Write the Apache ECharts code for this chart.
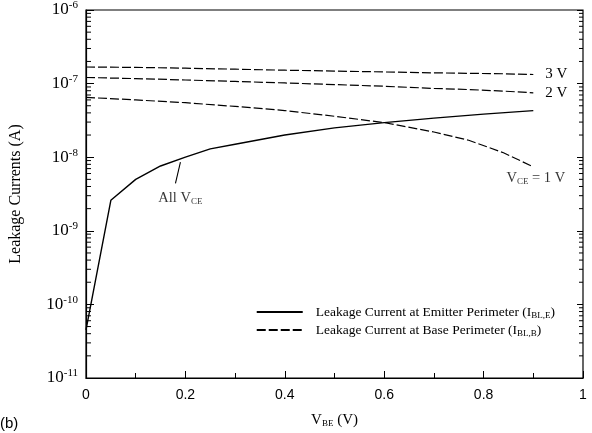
<!DOCTYPE html>
<html>
<head>
<meta charset="utf-8">
<script src="https://cdn.jsdelivr.net/npm/echarts@6/dist/echarts.min.js"></script>
<style>
  html, body { margin: 0; padding: 0; background: #fff; }
  #chart { width: 592px; height: 433px; }
</style>
</head>
<body>
<div id="chart"></div>
<script>
// emitter perimeter leakage (same for all VCE)
var vbeEmitter = [0, 0.05, 0.1, 0.15, 0.2, 0.25, 0.3, 0.4, 0.5, 0.6, 0.7, 0.8, 0.9];
var emitterLeak = [4.5e-11, 2.6e-9, 5e-9, 7.6e-9, 1.0e-8, 1.3e-8, 1.5e-8, 2.0e-8, 2.5e-8, 2.95e-8, 3.4e-8, 3.85e-8, 4.3e-8];

// base perimeter leakage, one per VCE
var vbeBase = [0, 0.1, 0.2, 0.3, 0.4, 0.5, 0.6, 0.7, 0.77, 0.84, 0.9];
var base3V = [1.68e-7, 1.66e-7, 1.62e-7, 1.57e-7, 1.52e-7, 1.48e-7, 1.44e-7, 1.4e-7, 1.38e-7, 1.36e-7, 1.33e-7];
var base2V = [1.21e-7, 1.17e-7, 1.12e-7, 1.07e-7, 1.02e-7, 9.7e-8, 9.2e-8, 8.6e-8, 8.3e-8, 7.9e-8, 7.5e-8];
var base1V = [6.5e-8, 6.0e-8, 5.5e-8, 4.9e-8, 4.3e-8, 3.6e-8, 2.95e-8, 2.2e-8, 1.7e-8, 1.15e-8, 7.4e-9];

var yMin = 1e-11, yMax = 1e-6;

function pairs(xs, ys) {
  return xs.map(function (x, i) { return [x, ys[i]]; });
}

// log minor tick values 2..9 x 10^k
var minorVals = [];
for (var k = -11; k < -6; k++) {
  for (var m = 2; m <= 9; m++) minorVals.push([0, m * Math.pow(10, k)]);
}

var serif = 'Liberation Serif';
var sans = 'Liberation Sans';
var dash = [9, 3];
var subStyle = { fontFamily: serif, fontSize: 9, padding: [7, 0, 0, 0] };

var myChart = echarts.init(document.getElementById('chart'), null, { renderer: 'canvas' });

var option = {
  animation: false,
  backgroundColor: '#fff',
  grid: { left: 85, right: 9, top: 10, bottom: 47, show: true, borderColor: '#000', borderWidth: 1.2 },
  legend: {
    orient: 'vertical',
    right: 32,
    bottom: 90,
    itemWidth: 46,
    itemHeight: 12,
    itemGap: 3,
    data: ['emitter', 'base3'],
    itemStyle: { opacity: 0 },
    textStyle: {
      fontFamily: serif, fontSize: 13.5, color: '#000', padding: [0, 0, 0, 8],
      rich: { sub: { fontFamily: serif, fontSize: 9, padding: [7, 0, 0, 0] } }
    },
    formatter: function (name) {
      return name === 'emitter'
        ? 'Leakage Current at Emitter Perimeter (I{sub|BL,E})'
        : 'Leakage Current at Base Perimeter (I{sub|BL,B})';
    }
  },
  xAxis: {
    type: 'value', min: 0, max: 1, interval: 0.2,
    name: 'V{sub|BE} (V)', nameLocation: 'middle', nameGap: 34,
    nameTextStyle: {
      fontFamily: serif, fontSize: 15, color: '#000',
      rich: { sub: subStyle }
    },
    axisLine: { lineStyle: { color: '#000', width: 1.2 } },
    axisTick: { inside: true, length: 7, lineStyle: { color: '#000' } },
    minorTick: { show: true, splitNumber: 2, length: 5, lineStyle: { color: '#000' } },
    splitLine: { show: false },
    axisLabel: { fontFamily: sans, fontSize: 14, color: '#000', margin: 10,
      formatter: function (v) { return String(Math.round(v * 10) / 10); } }
  },
  yAxis: [{
    type: 'log', min: yMin, max: yMax, logBase: 10,
    name: 'Leakage Currents (A)', nameLocation: 'middle', nameGap: 62,
    nameTextStyle: { fontFamily: serif, fontSize: 16, color: '#000' },
    axisLine: { lineStyle: { color: '#000', width: 1.2 } },
    axisTick: { inside: true, length: 8, lineStyle: { color: '#000' } },
    splitLine: { show: false },
    axisLabel: {
      fontFamily: serif, fontSize: 17, color: '#000', margin: 8,
      rich: { sup: { fontFamily: serif, fontSize: 11, verticalAlign: 'top', padding: [0, 0, 9, 0] } },
      formatter: function (v) {
        return '10{sup|' + Math.round(Math.log10(v)) + '}';
      }
    }
  }, {
    type: 'log', min: yMin, max: yMax, position: 'right',
    axisLine: { show: false },
    axisTick: { inside: true, length: 6, lineStyle: { color: '#000' } },
    axisLabel: { show: false },
    splitLine: { show: false }
  }],
  series: [
    {
      name: 'emitter', type: 'line', data: pairs(vbeEmitter, emitterLeak),
      symbol: 'none', color: '#000',
      lineStyle: { color: '#000', width: 1.4 }
    },
    {
      name: 'base3', type: 'line', data: pairs(vbeBase, base3V),
      symbol: 'none', color: '#000',
      lineStyle: { color: '#000', width: 1.2, type: dash },
      endLabel: { show: true, formatter: '3 V', distance: 12, fontFamily: serif, fontSize: 15, color: '#000' }
    },
    {
      name: 'base2', type: 'line', data: pairs(vbeBase, base2V),
      symbol: 'none', color: '#000',
      lineStyle: { color: '#000', width: 1.2, type: dash },
      endLabel: { show: true, formatter: '2 V', distance: 12, fontFamily: serif, fontSize: 15, color: '#000' }
    },
    {
      name: 'base1', type: 'line', data: pairs(vbeBase, base1V),
      symbol: 'none', color: '#000',
      lineStyle: { color: '#000', width: 1.2, type: dash }
    },
    {
      // leader line for "All VCE"
      type: 'line', data: [[0.19, 8.6e-9], [0.18, 4.4e-9]],
      symbol: 'none', silent: true,
      lineStyle: { color: '#000', width: 1.1 }
    },
    {
      // text annotations anchored at data coordinates
      type: 'scatter', symbolSize: 0, silent: true,
      data: [
        { value: [0.19, 2.8e-9], name: 'All V{sub|CE}' },
        { value: [0.905, 5.2e-9], name: 'V{sub|CE} = 1 V' }
      ],
      label: {
        show: true, position: 'inside', color: '#000',
        fontFamily: serif, fontSize: 14.5,
        formatter: function (p) { return p.name; },
        rich: { sub: subStyle }
      }
    },
    {
      // log minor ticks on both vertical axes
      type: 'custom', silent: true, data: minorVals,
      renderItem: function (params, api) {
        var v = api.value(1);
        var l = api.coord([0, v]);
        var r = api.coord([1, v]);
        return {
          type: 'group',
          children: [
            { type: 'line', shape: { x1: l[0], y1: l[1], x2: l[0] + 5, y2: l[1] }, style: { stroke: '#000', lineWidth: 1 } },
            { type: 'line', shape: { x1: r[0], y1: r[1], x2: r[0] - 4, y2: r[1] }, style: { stroke: '#000', lineWidth: 1 } }
          ]
        };
      }
    }
  ],
  graphic: [{
    type: 'text', left: 0, bottom: 2,
    style: { text: '(b)', fontFamily: sans, fontSize: 15, fill: '#000' }
  }]
};

myChart.setOption(option);
</script>
</body>
</html>
